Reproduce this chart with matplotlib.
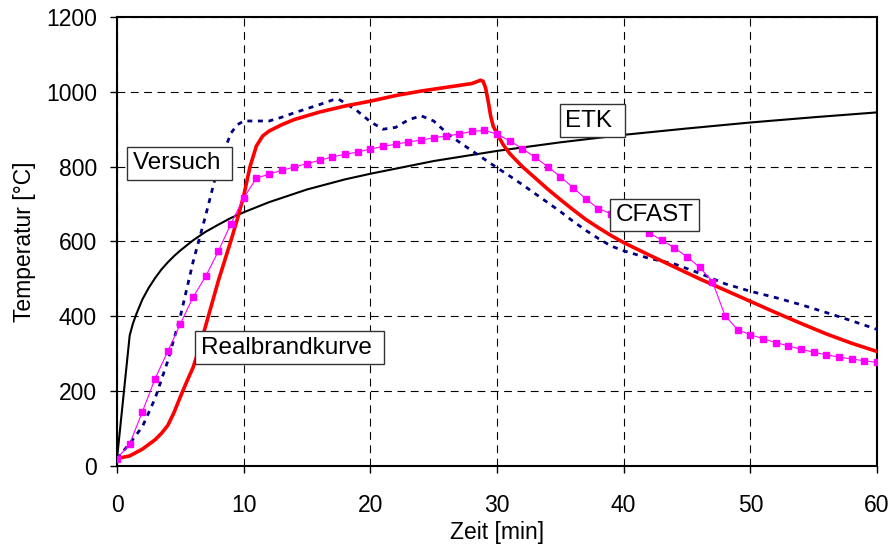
import matplotlib

matplotlib.use("Agg")
import matplotlib.pyplot as plt

plt.rcParams["font.family"] = ["Liberation Sans", "DejaVu Sans"]

# ETK (Einheits-Temperaturzeitkurve)
etk_t = [0, 1, 1.25, 1.5, 2, 2.5, 3, 3.5, 4, 4.5, 5, 6, 7, 8, 9, 10, 12, 15,
         18, 20, 25, 30, 35, 40, 45, 50, 55, 60]
etk_T = [20, 349, 380, 404, 445, 476, 502, 525, 544, 561, 576, 603, 626, 645,
         663, 678, 705, 739, 766, 781, 815, 842, 865, 885, 902, 918, 932, 945]

# Versuch (measured)
versuch_t = [0, 1, 2, 3, 4, 5, 6, 7, 8, 9, 9.5, 10, 11, 12, 13, 14, 15, 16, 17,
             17.5, 18, 19, 20, 21, 22, 23, 24, 25, 26, 27, 28, 29, 30, 31, 32,
             33, 34, 35, 36, 37, 38, 39, 40, 42, 44, 46, 48, 50, 52, 54, 56,
             58, 60]
versuch_T = [20, 60, 105, 180, 280, 400, 545, 670, 802, 890, 912, 922, 922, 922,
             932, 944, 955, 966, 978, 980, 970, 948, 920, 900, 905, 925, 936,
             922, 891, 866, 843, 820, 797, 775, 752, 728, 704, 680, 654, 630,
             608, 588, 575, 555, 540, 515, 487, 467, 450, 431, 410, 388, 365]

# Realbrandkurve
real_t = [0, 1, 2, 3, 3.5, 4, 4.5, 5, 5.5, 6, 6.5, 7, 8, 9, 9.5, 10, 10.5, 11,
          11.5, 12, 13, 14, 16, 18, 20, 22, 24, 26, 27, 28, 28.4, 28.7, 28.9,
          29.1, 29.3, 29.5, 29.7, 30, 30.5, 31, 32, 33, 34, 35, 36, 37, 38,
          39, 40, 42, 44, 46, 48, 50, 52, 54, 56, 58, 60]
real_T = [20, 27, 45, 70, 87, 108, 143, 185, 225, 263, 315, 375, 495, 603, 660,
          722, 800, 855, 882, 895, 912, 926, 946, 962, 975, 990, 1002, 1012,
          1017, 1022, 1027, 1031, 1028, 1010, 975, 935, 908, 888, 858, 835,
          800, 770, 740, 712, 685, 659, 637, 616, 597, 564, 532, 500, 470,
          440, 410, 381, 353, 328, 306]

# CFAST simulation, one value per minute
cfast_t = list(range(61))
cfast_T = [20, 59, 145, 233, 306, 380, 451, 507, 574, 648,
           716, 769, 780, 790, 799, 808, 817, 826, 833, 839,
           847, 854, 860, 866, 871, 877, 882, 887, 894, 897,
           887, 869, 848, 825, 800, 773, 744, 714, 688, 674,
           657, 640, 623, 604, 583, 559, 531, 493, 402, 364,
           351, 340, 330, 321, 312, 304, 297, 291, 286, 281,
           277]

# curve labels: text, x, y
labels = [
    ("Versuch ", 1.24, 809),
    ("Realbrandkurve ", 6.6, 316),
    ("ETK ", 35.4, 923),
    ("CFAST", 39.35, 671),
]

fig = plt.figure(figsize=(8.92, 5.44), dpi=100)
ax = fig.add_axes([0.1312, 0.1434, 0.852, 0.8254])

ax.plot(etk_t, etk_T, color="black", lw=1.5, zorder=3)
ax.plot(versuch_t, versuch_T, color="#000080", lw=2.0,
        linestyle=(0, (1.8, 2.0)), zorder=4)
ax.plot(real_t, real_T, color="#ff0000", lw=2.6, zorder=5)
ax.plot(cfast_t, cfast_T, color="#ff00ff", lw=0.8, marker="s",
        markersize=5, markeredgecolor="#ff00ff", zorder=6)

for text, x, y in labels:
    ax.text(x, y, text, fontsize=17.5, ha="left", va="center", zorder=10,
            bbox=dict(boxstyle="square,pad=0.22", facecolor="white",
                      edgecolor="#333333", lw=1.0))

ax.set_xlim(0, 60)
ax.set_ylim(0, 1200)
ax.set_xticks(range(0, 61, 10))
ax.set_yticks(range(0, 1201, 200))
ax.grid(True, color="black", lw=0.8, linestyle=(0, (7, 5)), zorder=1)
ax.set_axisbelow(True)

for side in ax.spines.values():
    side.set_linewidth(1.5)

ax.tick_params(axis="both", direction="out", length=5, width=1,
               labelsize=16.5)
ax.tick_params(axis="x", pad=15)
ax.tick_params(axis="y", pad=9.5)

ax.set_xlabel("Zeit [min]", fontsize=16.5, labelpad=3)
ax.set_ylabel("Temperatur [°C]", fontsize=16.5, labelpad=7)

fig.savefig("out.png", dpi=100)
